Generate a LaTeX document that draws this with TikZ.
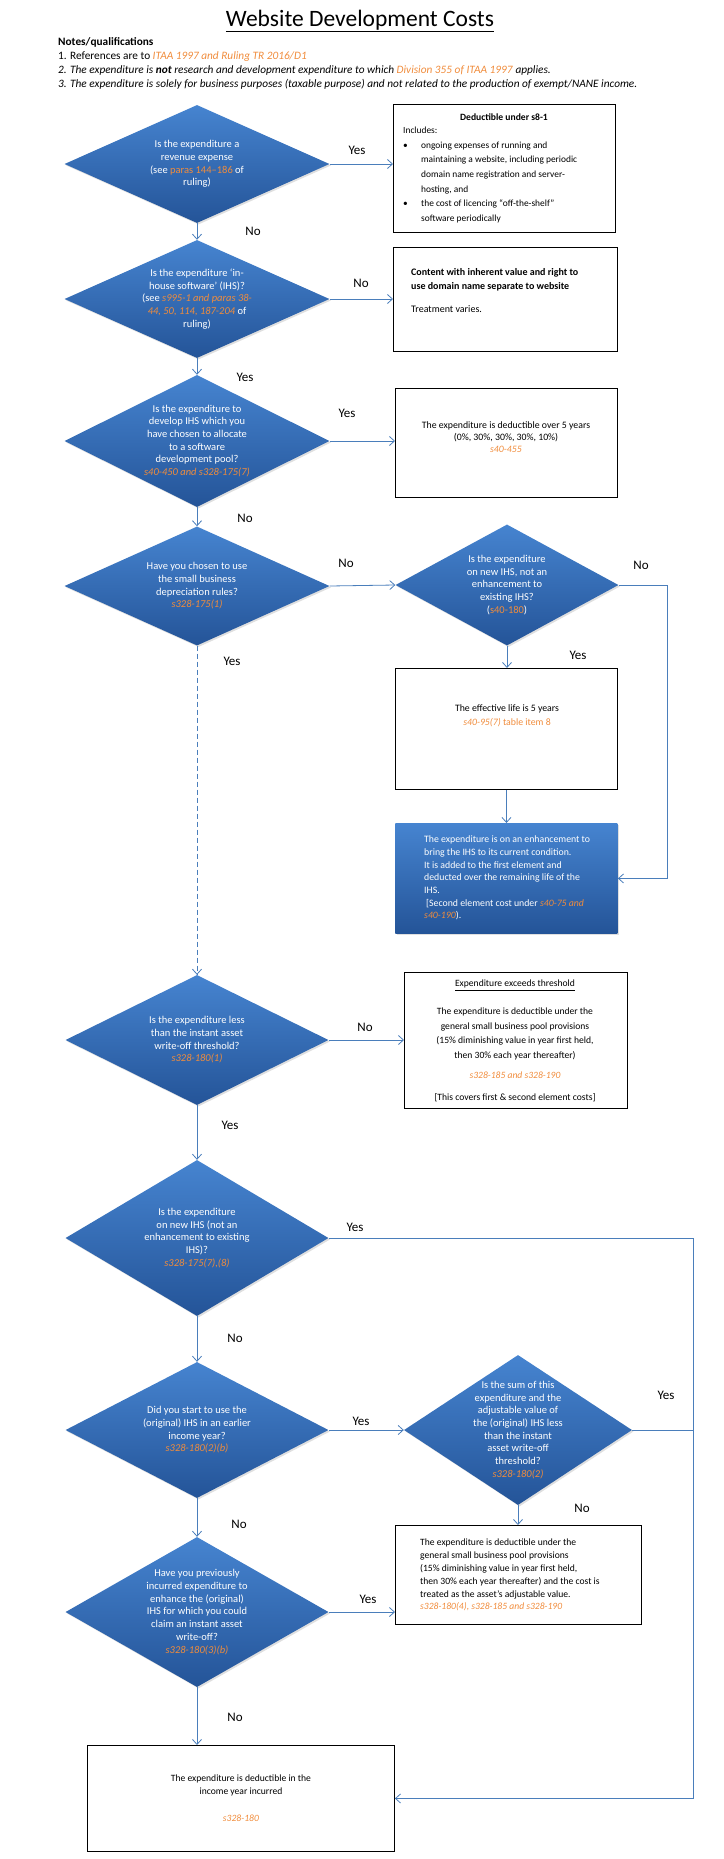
\documentclass[tikz,border=0pt]{standalone}
\usepackage{fontspec}
\setmainfont{Carlito}
\usetikzlibrary{shapes.geometric,arrows.meta,shadows}
\definecolor{refor}{RGB}{240,140,60}
\definecolor{linkblue}{RGB}{74,126,187}
\definecolor{diatop}{RGB}{70,132,208}
\definecolor{diabot}{RGB}{36,84,152}
\newcommand{\ritref}[1]{\textcolor{refor}{\textit{#1}}}
\newcommand{\rupref}[1]{\textcolor{refor}{#1}}

\begin{document}
\begin{tikzpicture}[x=1pt, y=-1pt,
  dia/.style={diamond, inner sep=0pt, draw=none, top color=diatop, bottom color=diabot,
    drop shadow={shadow xshift=1.5pt, shadow yshift=-1.5pt, opacity=.25}},
  qtext/.style={text=white, align=center, inner sep=0pt, font=\fontsize{10.5}{12.7}\selectfont},
  box/.style={draw=black, line width=0.9pt, inner sep=0pt, anchor=north west},
  btext/.style={align=left, inner sep=0pt, font=\fontsize{9.4}{14.6}\selectfont},
  yn/.style={inner sep=0pt, font=\fontsize{13}{15}\selectfont},
  conn/.style={draw=linkblue, line width=0.8pt, -{Straight Barb[length=5pt,width=9pt]}}]
\useasboundingbox (0,0) rectangle (723,1859);
% Titel und Hinweise
\node[font=\fontsize{23.5}{26}\selectfont, inner sep=0pt] (title) at (360,21) {\underline{Website Development Costs}};
\node[anchor=north west, align=left, inner sep=0pt, font=\fontsize{11.3}{14.2}\selectfont] (notes) at (58,37)
  {\textbf{Notes/qualifications}\\
   1. References are to \ritref{ITAA 1997 and Ruling TR 2016/D1}\\
   \textit{2. The expenditure is \textbf{not} research and development expenditure to which} \ritref{Division 355 of ITAA 1997} \textit{applies.}\\
   \textit{3. The expenditure is solely for business purposes (taxable purpose) and not related to the production of exempt/NANE income.}};

% Rauten (Fragen)
\node[dia, minimum width=265pt, minimum height=118pt] (revenue) at (197,164) {};
\node[qtext] (revenue-t) at (revenue) {Is the expenditure a\\revenue expense\\(see \rupref{paras 144–186} of\\ruling)};
\node[dia, minimum width=265pt, minimum height=118pt] (ihs) at (197,299) {};
\node[qtext] (ihs-t) at (ihs) {Is the expenditure ‘in-\\house software’ (IHS)?\\(see \ritref{s995-1 and paras 38-}\\\ritref{44, 50, 114, 187-204} of\\ruling)};
\node[dia, minimum width=265pt, minimum height=132pt] (pool) at (197,441) {};
\node[qtext] (pool-t) at (pool) {Is the expenditure to\\develop IHS which you\\have chosen to allocate\\to a software\\development pool?\\\ritref{s40-450 and s328-175(7)}};
\node[dia, minimum width=265pt, minimum height=119pt] (sbrules) at (197,586) {};
\node[qtext] (sbrules-t) at (sbrules) {Have you chosen to use\\the small business\\depreciation rules?\\\ritref{s328-175(1)}};
\node[dia, minimum width=223pt, minimum height=121pt] (newihs) at (507,585) {};
\node[qtext] (newihs-t) at (newihs) {Is the expenditure\\on new IHS, not an\\enhancement to\\existing IHS?\\(\rupref{s40-180})};
\node[dia, minimum width=263pt, minimum height=130pt] (thresh) at (197,1040) {};
\node[qtext] (thresh-t) at (thresh) {Is the expenditure less\\than the instant asset\\write-off threshold?\\\ritref{s328-180(1)}};
\node[dia, minimum width=263pt, minimum height=156pt] (newihs2) at (197,1238) {};
\node[qtext] (newihs2-t) at (newihs2) {Is the expenditure\\on new IHS (not an\\enhancement to existing\\IHS)?\\\ritref{s328-175(7),(8)}};
\node[dia, minimum width=263pt, minimum height=136pt] (earlier) at (197,1430) {};
\node[qtext] (earlier-t) at (earlier) {Did you start to use the\\(original) IHS in an earlier\\income year?\\\ritref{s328-180(2)(b)}};
\node[dia, minimum width=228pt, minimum height=150pt] (sum) at (518,1430) {};
\node[qtext] (sum-t) at (sum) {Is the sum of this\\expenditure and the\\adjustable value of\\the (original) IHS less\\than the instant\\asset write-off\\threshold?\\\ritref{s328-180(2)}};
\node[dia, minimum width=263pt, minimum height=150pt] (prev) at (197,1612) {};
\node[qtext] (prev-t) at (prev) {Have you previously\\incurred expenditure to\\enhance the (original)\\IHS for which you could\\claim an instant asset\\write-off?\\\ritref{s328-180(3)(b)}};

% Kaesten (Ergebnisse)
\node[box, minimum width=222pt, minimum height=128pt] (s81) at (393,104) {};
\node[inner sep=0pt, font=\bfseries\fontsize{9.6}{12}\selectfont] (s81-h) at (504,117) {Deductible under s8-1};
\node[btext, anchor=north west] (s81-t) at (403,127) {Includes:\\
  \makebox[18pt][l]{\textbullet}ongoing expenses of running and\\
  \hspace*{18pt}maintaining a website, including periodic\\
  \hspace*{18pt}domain name registration and server-\\
  \hspace*{18pt}hosting, and\\
  \makebox[18pt][l]{\textbullet}the cost of licencing “off-the-shelf”\\
  \hspace*{18pt}software periodically};
\node[box, minimum width=224pt, minimum height=104pt] (content) at (393,247) {};
\node[btext, anchor=north west, font=\fontsize{10}{14}\selectfont] (content-t) at (411,268)
  {\textbf{Content with inherent value and right to}\\\textbf{use domain name separate to website}\\[9pt]Treatment varies.};
\node[box, minimum width=222pt, minimum height=109pt] (dev5) at (395,388) {};
\node[btext, align=center, font=\fontsize{9.8}{12}\selectfont] (dev5-t) at (506,437)
  {The expenditure is deductible over 5 years\\(0\%, 30\%, 30\%, 30\%, 10\%)\\\ritref{s40-455}};
\node[box, minimum width=222pt, minimum height=121pt] (life) at (395,668) {};
\node[btext, align=center, font=\fontsize{9.8}{14}\selectfont] (life-t) at (507,716)
  {The effective life is 5 years\\\ritref{s40-95(7)} \rupref{table item 8}};
\node[box, draw=none, top color=diatop, bottom color=diabot, minimum width=222pt, minimum height=110pt,
  drop shadow={shadow xshift=1.5pt, shadow yshift=-1.5pt, opacity=.25}] (enh) at (395,823) {};
\node[btext, anchor=west, text=white, font=\fontsize{9.8}{12.7}\selectfont] (enh-t) at (424,878)
  {The expenditure is on an enhancement to\\bring the IHS to its current condition.\\It is added to the first element and\\deducted over the remaining life of the\\IHS.\\\hspace*{2pt}{[}Second element cost under \ritref{s40-75 and}\\\ritref{s40-190}).};
\node[box, minimum width=223pt, minimum height=136pt] (exceeds) at (404,972) {};
\node[btext, align=center, font=\fontsize{9.6}{14.5}\selectfont] (exceeds-t) at (515,1041)
  {\underline{Expenditure exceeds threshold}\\[13.5pt]The expenditure is deductible under the\\general small business pool provisions\\(15\% diminishing value in year first held,\\then 30\% each year thereafter)\\[5.5pt]\ritref{s328-185 and s328-190}\\[7.5pt]{[This covers first \& second element costs]}};
\node[box, minimum width=246pt, minimum height=99pt] (pooltreat) at (395,1525) {};
\node[btext, anchor=west, font=\fontsize{9.6}{12.9}\selectfont] (pooltreat-t) at (420,1575)
  {The expenditure is deductible under the\\general small business pool provisions\\(15\% diminishing value in year first held,\\then 30\% each year thereafter) and the cost is\\treated as the asset's adjustable value.\\\ritref{s328-180(4), s328-185 and s328-190}};
\node[box, minimum width=307pt, minimum height=106pt] (incurred) at (87,1745) {};
\node[btext, align=center, font=\fontsize{9.6}{13}\selectfont] (incurred-t) at (incurred)
  {The expenditure is deductible in the\\income year incurred\\[14pt]\ritref{s328-180}};

% Hilfspunkte fuer die Rueckfuehrungen
\coordinate (rail1) at (667,0);
\coordinate (rail2) at (693,0);

% Verbindungen
\draw[conn] (revenue.east) -- (revenue.east -| s81.west);
\draw[conn] (revenue.south) -- (ihs.north);
\draw[conn] (ihs.east) -- (ihs.east -| content.west);
\draw[conn] (ihs.south) -- (pool.north);
\draw[conn] (pool.east) -- (pool.east -| dev5.west);
\draw[conn] (pool.south) -- (sbrules.north);
\draw[conn] (sbrules.east) -- (newihs.west);
\draw[conn, dash pattern=on 5pt off 3pt] (sbrules.south) -- (thresh.north);
\draw[conn] (newihs.south) -- (life.north -| newihs.south);
\draw[conn] (newihs.east) -- (newihs.east -| rail1) -- (rail1 |- enh.east) -- (enh.east);
\draw[conn] (life.south) -- (enh.north);
\draw[conn] (thresh.east) -- (thresh.east -| exceeds.west);
\draw[conn] (thresh.south) -- (newihs2.north);
\draw[conn] (newihs2.east) -- (newihs2.east -| rail2) -- (rail2 |- incurred.east) -- (incurred.east);
\draw[conn] (newihs2.south) -- (earlier.north);
\draw[conn] (earlier.east) -- (sum.west);
\draw[draw=linkblue, line width=0.8pt] (sum.east) -- (sum.east -| rail2);
\draw[conn] (sum.south) -- (pooltreat.north -| sum.south);
\draw[conn] (earlier.south) -- (prev.north);
\draw[conn] (prev.east) -- (prev.east -| pooltreat.west);
\draw[conn] (prev.south) -- (incurred.north -| prev.south);

% Ja / Nein
\node[yn] (y1) at (357,150) {Yes};
\node[yn] (n1) at (253,231) {No};
\node[yn] (n2) at (361,283) {No};
\node[yn] (y2) at (245,377) {Yes};
\node[yn] (y3) at (347,413) {Yes};
\node[yn] (n3) at (245,518) {No};
\node[yn] (n4) at (346,563) {No};
\node[yn] (y4) at (232,661) {Yes};
\node[yn] (n5) at (641,565) {No};
\node[yn] (y5) at (578,655) {Yes};
\node[yn] (n6) at (365,1027) {No};
\node[yn] (y6) at (230,1125) {Yes};
\node[yn] (y7) at (355,1227) {Yes};
\node[yn] (n7) at (235,1338) {No};
\node[yn] (y8) at (361,1421) {Yes};
\node[yn] (y9) at (666,1395) {Yes};
\node[yn] (n9) at (582,1508) {No};
\node[yn] (n8) at (239,1524) {No};
\node[yn] (y10) at (368,1599) {Yes};
\node[yn] (n10) at (235,1717) {No};
\end{tikzpicture}
\end{document}
